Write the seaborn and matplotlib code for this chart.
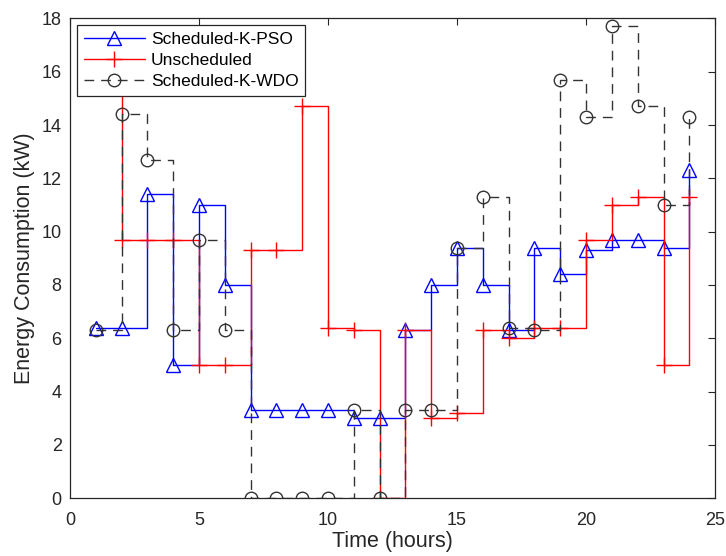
import matplotlib
matplotlib.use("Agg")
import matplotlib.pyplot as plt
import numpy as np
import seaborn as sns

# Hourly energy consumption (kW)
hours = list(range(1, 25))
pso = [6.4, 6.4, 11.4, 5.0, 11.0, 8.0, 3.3, 3.3, 3.3, 3.3, 3.0, 3.0,
       6.3, 8.0, 9.4, 8.0, 6.3, 9.4, 8.4, 9.3, 9.7, 9.7, 9.4, 12.3]
unscheduled = [16.0, 9.7, 9.7, 9.7, 5.0, 5.0, 9.3, 9.3, 14.7, 6.4, 6.3, 0.0,
               6.3, 3.0, 3.2, 6.3, 6.0, 6.4, 6.4, 9.7, 11.0, 11.3, 5.0, 11.3]
wdo = [6.3, 14.4, 12.7, 6.3, 9.7, 6.3, 0.0, 0.0, 0.0, 0.0, 3.3, 0.0,
       3.3, 3.3, 9.4, 11.3, 6.4, 6.3, 15.7, 14.3, 17.7, 14.7, 11.0, 14.3]

sns.set_style("white")
plt.rcParams["font.family"] = ["Liberation Sans", "DejaVu Sans"]

fig = plt.figure(figsize=(7.26, 5.56), dpi=100)
ax = fig.add_axes([0.0964, 0.1038, 0.8886, 0.8632])

text_col = "#262626"
dash = [7, 5]

sns.lineplot(x=hours, y=pso, ax=ax, drawstyle="steps-post", color="#0000ff",
             lw=1.0, marker="^", markersize=10, markerfacecolor="none",
             markeredgecolor="#0000ff", markeredgewidth=1.0,
             label="Scheduled-K-PSO")
sns.lineplot(x=hours, y=unscheduled, ax=ax, drawstyle="steps-post", color="#ff0000",
             lw=1.0, marker="+", markersize=12, markeredgecolor="#ff0000",
             markeredgewidth=1.0, label="Unscheduled")
sns.lineplot(x=hours, y=wdo, ax=ax, drawstyle="steps-post", color="#333333",
             lw=1.0, marker="o", markersize=9, markerfacecolor="none",
             markeredgecolor="#333333", markeredgewidth=1.0,
             label="Scheduled-K-WDO")
ax.lines[-1].set_dashes(dash)

ax.set_xlim(0, 25)
ax.set_ylim(0, 18)
ax.set_xticks(np.arange(0, 26, 5))
ax.set_yticks(np.arange(0, 19, 2))
ax.tick_params(direction="in", length=5, width=0.8, top=True, right=True,
               labelsize=13, colors=text_col)
ax.tick_params(axis="x", pad=10)
ax.tick_params(axis="y", pad=6)
for s in ax.spines.values():
    s.set_color(text_col)
    s.set_linewidth(0.9)

ax.set_xlabel("Time (hours)", fontsize=15.5, color=text_col, labelpad=1)
ax.set_ylabel("Energy Consumption (kW)", fontsize=15.5, color=text_col, labelpad=5)

# MATLAB-style legend box in the top left corner
leg = ax.legend(loc="upper left", fontsize=12.5, frameon=True, fancybox=False,
                edgecolor=text_col, framealpha=1.0, handlelength=3.5,
                borderaxespad=0.4, borderpad=0.4, labelspacing=0.32,
                handletextpad=0.35)
leg.get_frame().set_linewidth(0.9)
for t in leg.get_texts():
    t.set_color("black")
leg.legend_handles[-1].set_dashes(dash)

fig.savefig("out.png", dpi=100)
